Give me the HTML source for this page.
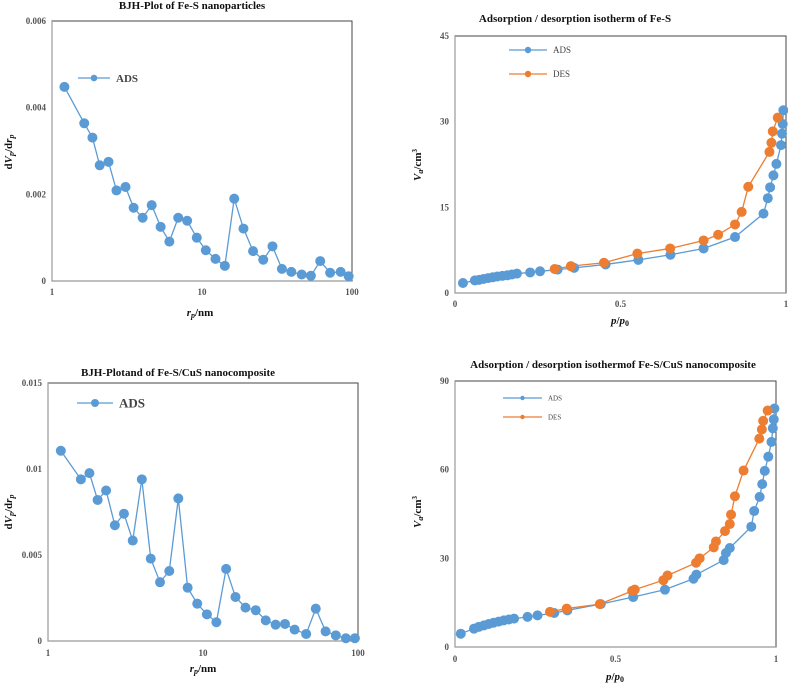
<!DOCTYPE html>
<html><head><meta charset="utf-8">
<style>
html,body{margin:0;padding:0;background:#fff;}
svg{display:block;font-family:"Liberation Serif",serif;}
.t{font-weight:bold;fill:#111;}
.tk{font-weight:bold;fill:#555;font-size:9px;}
</style></head>
<body>
<svg id="s" width="788" height="684" viewBox="0 0 788 684" xmlns="http://www.w3.org/2000/svg">
<text class="t" x="192" y="9" text-anchor="middle" font-size="11">BJH-Plot of Fe-S nanoparticles</text>
<text class="t" x="575" y="22" text-anchor="middle" font-size="11">Adsorption / desorption isotherm of  Fe-S</text>
<text class="t" x="178" y="376" text-anchor="middle" font-size="11">BJH-Plotand of Fe-S/CuS nanocomposite</text>
<text class="t" x="613" y="368" text-anchor="middle" font-size="11">Adsorption / desorption isothermof Fe-S/CuS nanocomposite</text>

<text class="t" font-size="11" transform="translate(12,152) rotate(-90)" text-anchor="middle">d<tspan font-style="italic">V<tspan font-size="8" dy="2">p</tspan></tspan><tspan dy="-2">/d</tspan><tspan font-style="italic">r<tspan font-size="8" dy="2">p</tspan></tspan></text>
<text class="t" font-size="11" x="200" y="316" text-anchor="middle"><tspan font-style="italic">r<tspan font-size="8" dy="2">p</tspan></tspan><tspan dy="-2">/nm</tspan></text>
<text class="t" font-size="11" transform="translate(421,165) rotate(-90)" text-anchor="middle"><tspan font-style="italic">V<tspan font-size="8" dy="2">a</tspan></tspan><tspan dy="-2">/cm</tspan><tspan font-size="7" dy="-4">3</tspan></text>
<text class="t" font-size="11" x="620" y="324" text-anchor="middle"><tspan font-style="italic">p</tspan>/<tspan font-style="italic">p</tspan><tspan font-size="8" dy="2">0</tspan></text>
<text class="t" font-size="11" transform="translate(12,512) rotate(-90)" text-anchor="middle">d<tspan font-style="italic">V<tspan font-size="8" dy="2">p</tspan></tspan><tspan dy="-2">/d</tspan><tspan font-style="italic">r<tspan font-size="8" dy="2">p</tspan></tspan></text>
<text class="t" font-size="11" x="203" y="672" text-anchor="middle"><tspan font-style="italic">r<tspan font-size="8" dy="2">p</tspan></tspan><tspan dy="-2">/nm</tspan></text>
<text class="t" font-size="11" transform="translate(421,512) rotate(-90)" text-anchor="middle"><tspan font-style="italic">V<tspan font-size="8" dy="2">a</tspan></tspan><tspan dy="-2">/cm</tspan><tspan font-size="7" dy="-4">3</tspan></text>
<text class="t" font-size="11" x="615" y="680" text-anchor="middle"><tspan font-style="italic">p</tspan>/<tspan font-style="italic">p</tspan><tspan font-size="8" dy="2">0</tspan></text>
</svg>
<script>
// Chart 1 data
const c1R=[1.21,1.64,1.86,2.08,2.38,2.69,3.09,3.5,4.02,4.62,5.3,6.06,6.94,7.96,9.23,10.6,12.3,14.2,16.4,18.9,21.9,25.6,29.5,34.1,39.4,46.2,53.2,61.4,71.5,84,95];
const c1V=[0.00448,0.00364,0.00331,0.00267,0.00275,0.00209,0.00217,0.00169,0.00146,0.00175,0.00125,0.00091,0.00146,0.00139,0.001,0.00071,0.00051,0.00035,0.0019,0.00121,0.00069,0.00049,0.0008,0.00028,0.00021,0.00015,0.00012,0.00046,0.00019,0.00021,0.00011];
const c1YTicks=["0","0.002","0.004","0.006"];
const c1XTicks=["1","10","100"];
// Chart 2 data
const c2AdsP=[0.024,0.06,0.073,0.086,0.1,0.114,0.128,0.143,0.158,0.172,0.187,0.227,0.257,0.31,0.36,0.455,0.554,0.651,0.751,0.846,0.932,0.945,0.952,0.962,0.971,0.985,0.988,0.99,0.992];
const c2AdsV=[1.75,2.2,2.3,2.45,2.6,2.75,2.9,3.0,3.1,3.25,3.4,3.6,3.8,4.1,4.4,5.0,5.8,6.7,7.8,9.8,13.9,16.6,18.5,20.6,22.6,25.9,27.9,29.6,32];
const c2DesP=[0.301,0.35,0.45,0.551,0.65,0.751,0.795,0.846,0.866,0.886,0.95,0.956,0.96,0.975];
const c2DesV=[4.2,4.7,5.3,6.9,7.8,9.2,10.2,12.0,14.2,18.6,24.7,26.3,28.3,30.7];
const c2YTicks=["0","15","30","45"];
const c2XTicks=["0","0.5","1"];
// Chart 3 data
const c3R=[1.21,1.63,1.85,2.09,2.37,2.7,3.09,3.52,4.03,4.6,5.28,6.06,6.93,7.96,9.18,10.6,12.2,14.1,16.2,18.8,21.9,25.4,29.4,33.8,39,46.3,53.4,61.8,71.9,83.5,95.5];
const c3V=[0.01106,0.0094,0.00976,0.0082,0.00875,0.00673,0.0074,0.00584,0.0094,0.00479,0.00342,0.00407,0.00829,0.0031,0.00217,0.00155,0.00109,0.00419,0.00256,0.00194,0.00179,0.0012,0.00095,0.00099,0.00066,0.00041,0.00188,0.00056,0.00033,0.00016,0.00016];
const c3YTicks=["0","0.005","0.01","0.015"];
const c3XTicks=["1","10","100"];
// Chart 4 data
const c4AdsP=[0.018,0.059,0.074,0.09,0.105,0.12,0.136,0.152,0.168,0.184,0.226,0.257,0.309,0.35,0.454,0.555,0.654,0.743,0.752,0.837,0.844,0.856,0.923,0.932,0.949,0.957,0.965,0.976,0.986,0.99,0.993,0.995];
const c4AdsV=[4.5,6.2,6.8,7.3,7.8,8.2,8.6,9.0,9.3,9.6,10.2,10.7,11.5,12.4,14.5,16.9,19.4,23.1,24.5,29.4,31.8,33.5,40.7,46,50.8,55.1,59.6,64.4,69.4,74,77,80.7];
const c4DesP=[0.296,0.348,0.451,0.552,0.56,0.649,0.662,0.751,0.762,0.806,0.813,0.841,0.856,0.86,0.872,0.899,0.948,0.956,0.96,0.974];
const c4DesV=[11.9,13,14.5,19,19.4,22.6,24.2,28.5,30,33.7,35.7,39.2,41.6,44.8,51,59.7,70.5,73.6,76.5,80];
const c4YTicks=["0","30","60","90"];
const c4XTicks=["0","0.5","1"];

const NS="http://www.w3.org/2000/svg";
const svg=document.getElementById('s');
function mk(tag,attrs){const e=document.createElementNS(NS,tag);for(const k in attrs)e.setAttribute(k,attrs[k]);svg.appendChild(e);return e;}

function frame(id,x0,y0,x1,y1,yTicks,xTicks,xTickY){
  const f=mk('rect',{x:x0,y:y0,width:x1-x0,height:y1-y0,fill:'none',stroke:'#444','stroke-width':1});
  
  
  const ax=mk('path',{d:`M${x0},${y0}V${y1}H${x1}`,fill:'none',stroke:'#999','stroke-width':1.2});
  
  
  yTicks.forEach((t,i)=>{
    const y=y1-(y1-y0)*i/(yTicks.length-1);
    const e=mk('text',{x:x0-6,y:y+3,'text-anchor':'end',class:'tk'});e.textContent=t;
    
    
  });
  xTicks.forEach((t,i)=>{
    const x=x0+(x1-x0)*i/(xTicks.length-1);
    const e=mk('text',{x:x,y:xTickY,'text-anchor':'middle',class:'tk'});e.textContent=t;
    
    
  });
}
function series(id,xs,ys,sx,sy,color,r){
  const pts=xs.map((x,i)=>[sx(x),sy(ys[i])]);
  const l=mk('polyline',{points:pts.map(p=>p.join(',')).join(' '),fill:'none',stroke:color,'stroke-width':1.3});
  
  
  pts.forEach(p=>{
    const c=mk('circle',{cx:p[0],cy:p[1],r:r,fill:color});
    
    
  });
}
function legend(id,x,y,len,color,label,fs,r){
  const l=mk('line',{x1:x,y1:y,x2:x+len,y2:y,stroke:color,'stroke-width':1.3});
  
  
  const c=mk('circle',{cx:x+len/2,cy:y,r:r,fill:color});
  
  
  const t=mk('text',{x:x+len+6,y:y+fs*0.35,'font-size':fs,fill:'#444','font-weight':fs>10?'bold':'normal'});t.textContent=label;
  
  
}
const BLUE='#5b9bd5',ORANGE='#ed7d31';
function logX(x0,x1){return v=>x0+(x1-x0)*Math.log10(v)/2;}
function linX(x0,x1){return v=>x0+(x1-x0)*v;}
function linY(y0,y1,max){return v=>y1-(y1-y0)*v/max;}

// Chart 1
frame('chart1',52,21,352,281,c1YTicks,c1XTicks,295);
series('chart1-ads',c1R,c1V,logX(52,352),linY(21,281,0.006),BLUE,5);
legend('chart1-ads',78,78,32,BLUE,'ADS',11,3.3);
// Chart 2
frame('chart2',455,36,786,293,c2YTicks,c2XTicks,307);
series('chart2-ads',c2AdsP,c2AdsV,linX(455,786),linY(36,293,45),BLUE,5);
series('chart2-des',c2DesP,c2DesV,linX(455,786),linY(36,293,45),ORANGE,5);
legend('chart2-ads',509,50,38,BLUE,'ADS',9,3.2);
legend('chart2-des',509,74,38,ORANGE,'DES',9,3.2);
// Chart 3
frame('chart3',48,383,358,641,c3YTicks,c3XTicks,656);
series('chart3-ads',c3R,c3V,logX(48,358),linY(383,641,0.015),BLUE,5);
legend('chart3-ads',77,403,36,BLUE,'ADS',13,4);
// Chart 4
frame('chart4',455,381,776,647,c4YTicks,c4XTicks,662);
series('chart4-ads',c4AdsP,c4AdsV,linX(455,776),linY(381,647,90),BLUE,5);
series('chart4-des',c4DesP,c4DesV,linX(455,776),linY(381,647,90),ORANGE,5);
legend('chart4-ads',503,398,39,BLUE,'ADS',7,2.2);
legend('chart4-des',503,417,39,ORANGE,'DES',7,2.2);
</script>
</body></html>
